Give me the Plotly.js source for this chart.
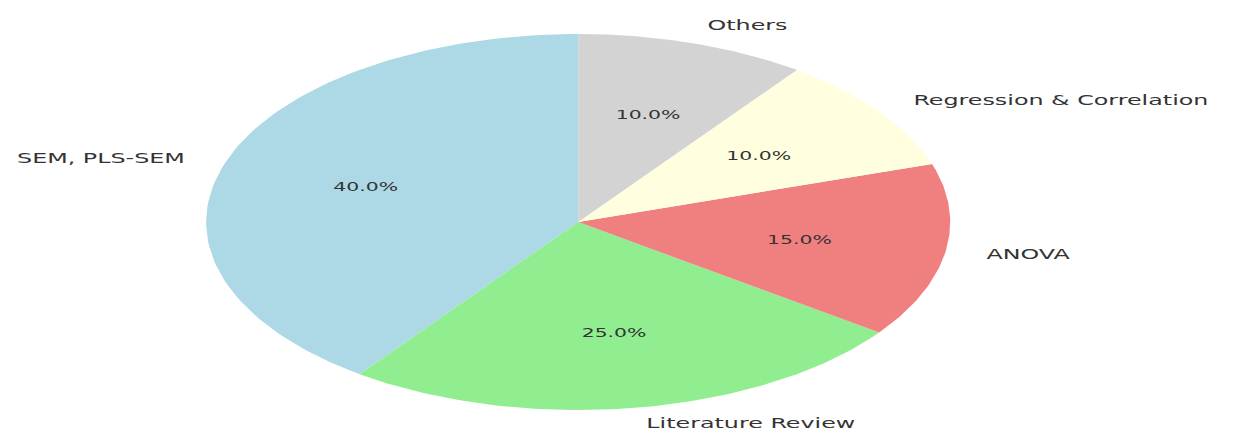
<!DOCTYPE html>
<html>
<head>
<meta charset="utf-8">
<script src="https://cdn.plot.ly/plotly-3.0.1.min.js"></script>
<style>
  html, body { margin: 0; padding: 0; background: #fff; overflow: hidden; }
  #wrap { width: 1233px; height: 433px; overflow: hidden; }
  #chart { width: 725px; height: 433px; transform: scaleX(1.7007); transform-origin: 0 0; }
</style>
</head>
<body>
<div id="wrap"><div id="chart"></div></div>
<script>
// Data
const categories = ["SEM, PLS-SEM", "Literature Review", "ANOVA", "Regression & Correlation", "Others"];
const values = [40, 25, 15, 10, 10];
const colors = ["#ADD8E6", "#90EE90", "#F08080", "#FFFFE0", "#D3D3D3"];

const total = values.reduce((a, b) => a + b, 0);
const startAngle = 90; // degrees, counter-clockwise
const traces = [];
const annotations = [];
let acc = 0;
categories.forEach((cat, i) => {
  const a1 = startAngle + 360 * acc / total;
  acc += values[i];
  const a2 = startAngle + 360 * acc / total;
  const xs = [0], ys = [0];
  const steps = 120;
  for (let k = 0; k <= steps; k++) {
    const t = (a1 + (a2 - a1) * k / steps) * Math.PI / 180;
    xs.push(Math.cos(t)); ys.push(Math.sin(t));
  }
  xs.push(0); ys.push(0);
  traces.push({
    type: 'scatter', mode: 'lines', x: xs, y: ys, fill: 'toself',
    fillcolor: colors[i], line: { width: 0, color: colors[i] },
    hoverinfo: 'text', text: cat, showlegend: false
  });
  const mid = ((a1 + a2) / 2) * Math.PI / 180;
  const lx = 1.1 * Math.cos(mid), ly = 1.1 * Math.sin(mid);
  annotations.push({
    x: lx, y: ly, xref: 'x', yref: 'y', text: cat, showarrow: false,
    xanchor: lx > 0 ? 'left' : 'right', yanchor: 'middle',
    yshift: ly < -1 ? 3 : 0,
    font: { family: 'DejaVu Sans', size: 14, color: '#333333' }
  });
  annotations.push({
    x: 0.6 * Math.cos(mid), y: 0.6 * Math.sin(mid), xref: 'x', yref: 'y',
    text: (values[i] / total * 100).toFixed(1) + '%', showarrow: false,
    xanchor: 'center', yanchor: 'middle',
    font: { family: 'DejaVu Sans', size: 12, color: '#333333' }
  });
});

const layout = {
  width: 725, height: 433,
  margin: { l: 0, r: 0, t: 0, b: 0 },
  paper_bgcolor: '#ffffff', plot_bgcolor: '#ffffff',
  xaxis: { range: [-1.554, 1.760], visible: false, fixedrange: true },
  yaxis: { range: [-1.122, 1.181], visible: false, fixedrange: true },
  annotations: annotations,
  showlegend: false
};

Plotly.newPlot('chart', traces, layout, { displayModeBar: false, staticPlot: true });
</script>
</body>
</html>
